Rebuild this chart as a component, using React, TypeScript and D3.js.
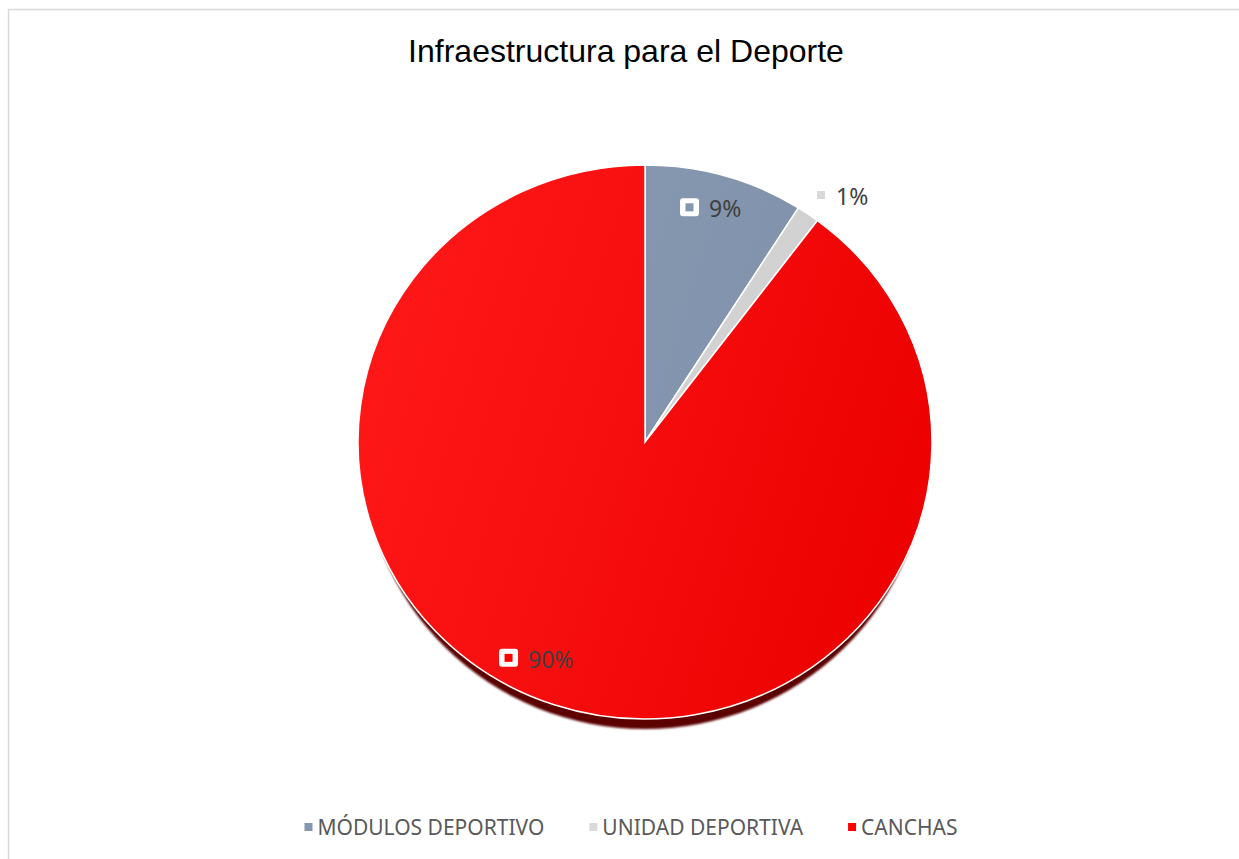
import React, { useEffect, useRef } from 'react';
import * as d3 from 'd3';

const categories = ['MÓDULOS DEPORTIVO', 'UNIDAD DEPORTIVA', 'CANCHAS'];
const values = [7, 1, 70];
const title = 'Infraestructura para el Deporte';

// slice fills: light edge (left) -> dark edge (right)
const fillLight = ['#8A9BB3', '#D6D6D6', '#FF1818'];
const fillDark = ['#7D8FA9', '#CFCFCF', '#EC0000'];
const swatch = ['#8497B0', '#D9D9D9', '#FF0000'];

const width = 1239;
const height = 859;

const App: React.FC = () => {
  const ref = useRef<SVGSVGElement>(null);

  useEffect(() => {
    if (ref.current === null) return;
    const svg = d3.select(ref.current);
    svg.selectAll('*').remove();

    const cx = 645;
    const cy = 442;
    const apexY = 434;
    const r = 287;
    const ky = 277 / 287;
    const total = d3.sum(values);
    const pct = d3.format('.0%');

    const defs = svg.append('defs');
    categories.forEach((_, i) => {
      const g = defs
        .append('linearGradient')
        .attr('id', `grad${i}`)
        .attr('gradientUnits', 'userSpaceOnUse')
        .attr('x1', -r)
        .attr('y1', -r * 0.3)
        .attr('x2', r)
        .attr('y2', r * 0.3);
      g.append('stop').attr('offset', 0).attr('stop-color', fillLight[i]);
      g.append('stop').attr('offset', 1).attr('stop-color', fillDark[i]);
    });
    defs
      .append('filter')
      .attr('id', 'blur')
      .append('feGaussianBlur')
      .attr('stdDeviation', 1.2);

    // chart area border (runs off the picture at right and bottom)
    svg
      .append('rect')
      .attr('x', 8.5)
      .attr('y', 9.5)
      .attr('width', 1400)
      .attr('height', 1000)
      .attr('fill', '#fff')
      .attr('stroke', '#D9D9D9')
      .attr('stroke-width', 1.5);

    svg
      .append('text')
      .attr('x', 626)
      .attr('y', 62)
      .attr('text-anchor', 'middle')
      .attr('font-family', '"Liberation Sans", Arial, sans-serif')
      .attr('font-size', 32)
      .attr('fill', '#000')
      .text(title);

    const pie = d3
      .pie<number>()
      .sort(null)
      .value((d) => d);
    const arcs = pie(values);
    const arc = d3
      .arc<d3.PieArcDatum<number>>()
      .innerRadius(0)
      .outerRadius(r);

    // pie edge / shadow
    svg
      .append('ellipse')
      .attr('cx', cx)
      .attr('cy', cy + 10)
      .attr('rx', r - 5)
      .attr('ry', r * ky)
      .attr('fill', '#5C0000')
      .attr('filter', 'url(#blur)');

    const gPie = svg
      .append('g')
      .attr('transform', `translate(${cx},${cy}) scale(1,${ky})`);

    gPie
      .selectAll('path')
      .data(arcs)
      .join('path')
      .attr('d', arc)
      .attr('fill', (_, i) => `url(#grad${i})`)
      .attr('stroke', '#fff')
      .attr('stroke-width', 1.5)
      .attr('vector-effect', 'non-scaling-stroke');

    // data labels
    const labelFont = '"Noto Sans", "Open Sans", sans-serif';
    const labelR = 236;
    const nudge = [
      [0, 0],
      [0, 0],
      [-34, 0],
    ];
    const gLab = svg.append('g');
    arcs.forEach((a, i) => {
      const share = a.value / total;
      const mid = (a.startAngle + a.endAngle) / 2;
      const text = pct(share);
      const gl = gLab.append('g');
      const t = gl
        .append('text')
        .attr('font-family', labelFont)
        .attr('font-size', 23)
        .attr('fill', '#404040')
        .attr('dominant-baseline', 'central')
        .text(text);
      const tw = (t.node() as SVGTextElement).getComputedTextLength();
      if (share >= 0.05) {
        const block = 19 + 10 + tw;
        const px = cx + Math.sin(mid) * labelR + nudge[i][0];
        const py = apexY - Math.cos(mid) * labelR + nudge[i][1];
        const x0 = px - block / 2;
        gl.insert('rect', 'text')
          .attr('x', x0)
          .attr('y', py - 9)
          .attr('width', 19)
          .attr('height', 18)
          .attr('rx', 3)
          .attr('fill', '#fff');
        gl.insert('rect', 'text')
          .attr('x', x0 + 5.5)
          .attr('y', py - 4)
          .attr('width', 8)
          .attr('height', 8)
          .attr('fill', swatch[i]);
        t.attr('x', x0 + 29).attr('y', py + 1);
      } else {
        const ex = cx + Math.sin(mid) * r;
        const ey = cy - Math.cos(mid) * r * ky;
        const x0 = ex + 9;
        const py = ey - 19;
        gl.insert('rect', 'text')
          .attr('x', x0)
          .attr('y', py - 4)
          .attr('width', 8)
          .attr('height', 8)
          .attr('fill', swatch[i]);
        t.attr('x', x0 + 19).attr('y', py + 1);
      }
    });

    // legend
    const legendFont = '"Noto Sans", "Open Sans", sans-serif';
    const gLeg = svg.append('g');
    const items = categories.map((c, i) => {
      const g = gLeg.append('g');
      g.append('rect')
        .attr('x', 0)
        .attr('y', -4)
        .attr('width', 8)
        .attr('height', 8)
        .attr('fill', swatch[i]);
      const t = g
        .append('text')
        .attr('x', 13)
        .attr('y', 0)
        .attr('dominant-baseline', 'central')
        .attr('font-family', legendFont)
        .attr('font-size', 21)
        .attr('fill', '#595959')
        .text(c);
      const w = 13 + (t.node() as SVGTextElement).getComputedTextLength();
      return { g, w };
    });
    const gap = 45;
    const totalW = d3.sum(items, (d) => d.w) + gap * (items.length - 1);
    let lx = 631 - totalW / 2;
    items.forEach((it) => {
      it.g.attr('transform', `translate(${lx},827)`);
      lx += it.w + gap;
    });
  }, []);

  return (
    <svg
      ref={ref}
      width={width}
      height={height}
      style={{ position: 'absolute', left: 0, top: 0, display: 'block' }}
    />
  );
};

export default App;
